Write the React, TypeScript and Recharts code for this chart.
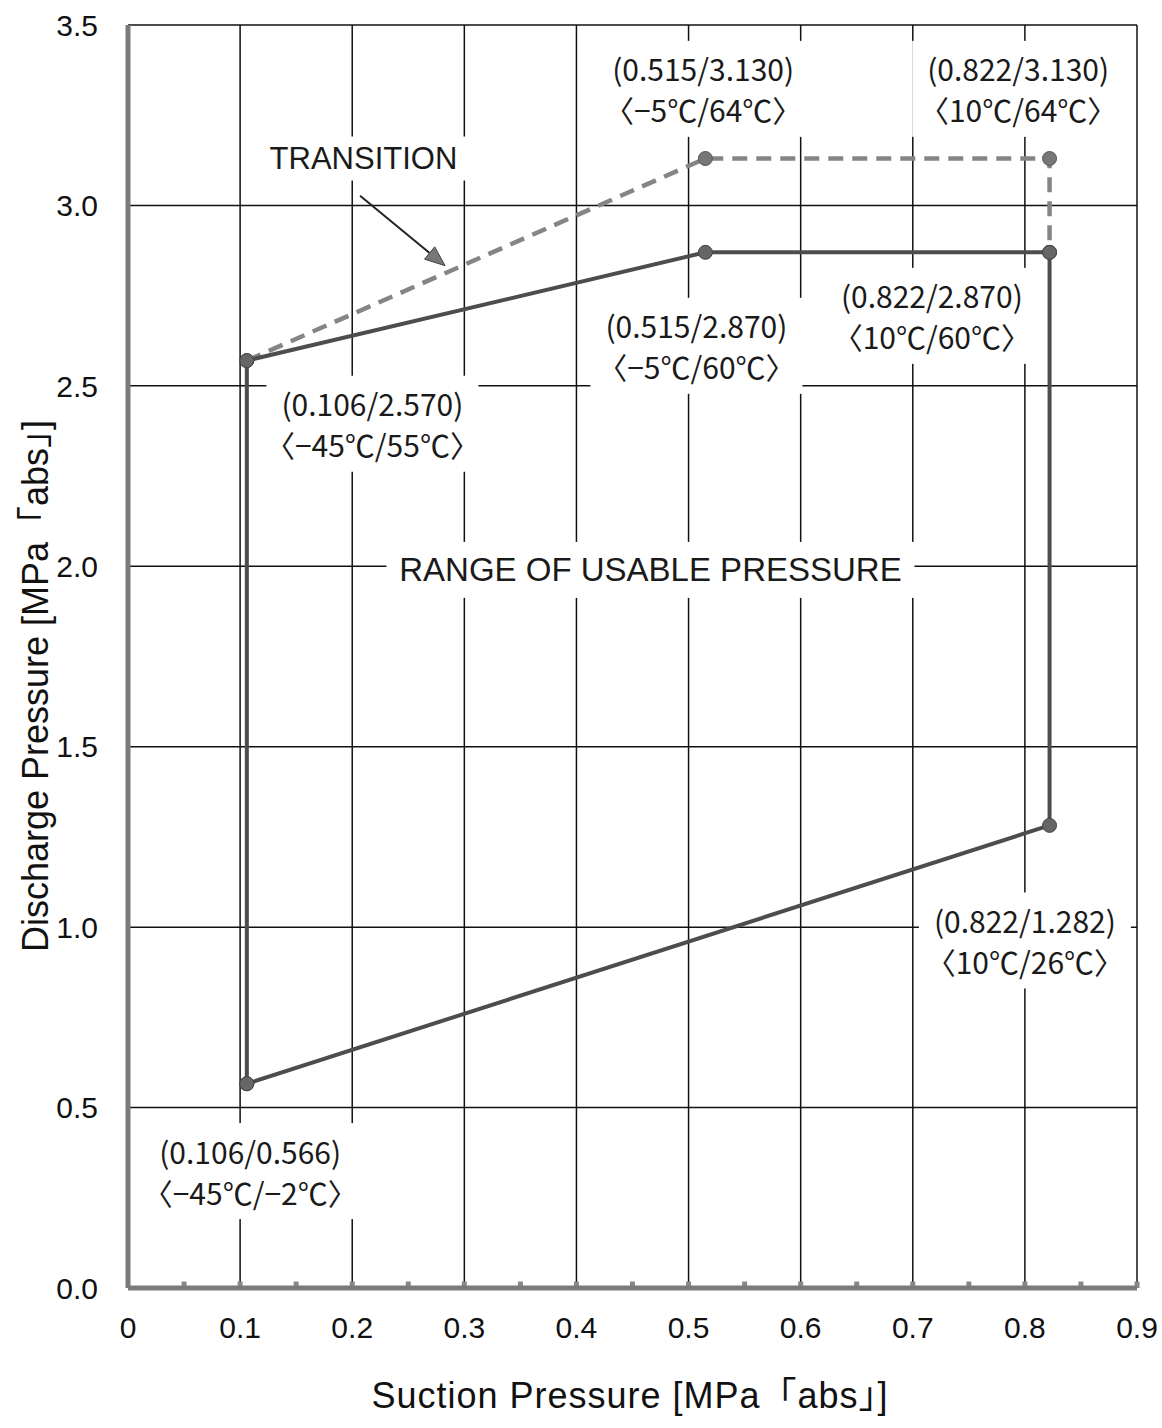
import React from "react";
import { LineChart, Line, XAxis, YAxis, CartesianGrid, ReferenceDot, ReferenceLine } from "recharts";

// operating envelope (suction / discharge, MPa abs)
const rangePoints = [
  { x: 0.106, y: 0.566 },
  { x: 0.106, y: 2.57 },
  { x: 0.515, y: 2.87 },
  { x: 0.822, y: 2.87 },
  { x: 0.822, y: 1.282 },
  { x: 0.106, y: 0.566 },
];
const transitionPoints = [
  { x: 0.106, y: 2.57 },
  { x: 0.515, y: 3.13 },
  { x: 0.822, y: 3.13 },
  { x: 0.822, y: 2.87 },
];

const xTicks = [0, 0.1, 0.2, 0.3, 0.4, 0.5, 0.6, 0.7, 0.8, 0.9];
const yTicks = [0, 0.5, 1.0, 1.5, 2.0, 2.5, 3.0, 3.5];
const minorTicks = [0.05, 0.1, 0.15, 0.2, 0.25, 0.3, 0.35, 0.4, 0.45, 0.5, 0.55, 0.6, 0.65, 0.7, 0.75, 0.8, 0.85, 0.9];

const pointTexts = [
  ["(0.515/3.130)", "〈−5℃/64℃〉"],
  ["(0.822/3.130)", "〈10℃/64℃〉"],
  ["(0.515/2.870)", "〈−5℃/60℃〉"],
  ["(0.822/2.870)", "〈10℃/60℃〉"],
  ["(0.106/2.570)", "〈−45℃/55℃〉"],
  ["(0.822/1.282)", "〈10℃/26℃〉"],
  ["(0.106/0.566)", "〈−45℃/−2℃〉"],
];
// where each label box sits (data coords of its centre)
const pointTextPos = [
  { x: 0.513, y: 3.323 },
  { x: 0.794, y: 3.323 },
  { x: 0.507, y: 2.611 },
  { x: 0.717, y: 2.694 },
  { x: 0.218, y: 2.395 },
  { x: 0.8, y: 0.963 },
  { x: 0.109, y: 0.324 },
];

const CJK = "'Noto Sans CJK JP', 'Liberation Sans', sans-serif";
const SANS = "'Liberation Sans', Arial, 'Noto Sans CJK JP', sans-serif";

const boxShape = (lines: string[], w: number, h: number, font: string, size: number, gap: number) => (props: any) => {
  const { cx, cy } = props;
  const top = cy - ((lines.length - 1) * gap) / 2;
  return (
    <g>
      <rect x={cx - w / 2} y={cy - h / 2} width={w} height={h} fill="#fff" />
      {lines.map((t, i) => (
        <text key={i} x={cx} y={top + i * gap} textAnchor="middle" dominantBaseline="central"
          fontFamily={font} fontSize={size} fill="#1a1a1a">{t}</text>
      ))}
    </g>
  );
};

const arrowShape = (props: any) => {
  const { x1, y1, x2, y2 } = props;
  const a = Math.atan2(y2 - y1, x2 - x1);
  const L = 20, W = 8;
  const bx = x2 - L * Math.cos(a), by = y2 - L * Math.sin(a);
  const p = `${x2},${y2} ${bx + W * Math.sin(a)},${by - W * Math.cos(a)} ${bx - W * Math.sin(a)},${by + W * Math.cos(a)}`;
  return (
    <g>
      <line x1={x1} y1={y1} x2={bx} y2={by} stroke="#222" strokeWidth={2} />
      <polygon points={p} fill="#777" stroke="#444" strokeWidth={1} />
    </g>
  );
};

const App = () => {
  return (
    <div style={{ position: "absolute", left: 0, top: 0, background: "#fff" }}>
      <LineChart width={1162} height={1428} margin={{ top: 25, right: 25, bottom: 80, left: 28 }}>
        <CartesianGrid stroke="#111" strokeWidth={1.5} />
        <XAxis
          type="number"
          dataKey="x"
          domain={[0, 0.9]}
          ticks={xTicks}
          tickFormatter={(v: number) => (v === 0 ? "0" : v.toFixed(1))}
          axisLine={{ stroke: "#7a7a7a", strokeWidth: 5 }}
          tickLine={false}
          tickMargin={23}
          height={60}
          tick={{ fontFamily: SANS, fontSize: 30, fill: "#111" }}
          label={{
            content: () => (
              <text x={630} y={1395} textAnchor="middle" dominantBaseline="central" letterSpacing={1}
                fontFamily={SANS} fontSize={36} fill="#111">Suction Pressure  [MPa「abs」]</text>
            ),
          }}
        />
        <YAxis
          type="number"
          domain={[0, 3.5]}
          ticks={yTicks}
          tickFormatter={(v: number) => v.toFixed(1)}
          axisLine={{ stroke: "#7a7a7a", strokeWidth: 5 }}
          tickLine={false}
          tickMargin={24}
          width={100}
          tick={{ fontFamily: SANS, fontSize: 30, fill: "#111" }}
          label={{
            content: () => (
              <text x={35} y={686} transform="rotate(-90 35 686)" textAnchor="middle" dominantBaseline="central"
                fontFamily={SANS} fontSize={36} fill="#111">Discharge Pressure [MPa「abs」]</text>
            ),
          }}
        />
        {minorTicks.map((t) => (
          <ReferenceLine key={t} segment={[{ x: t, y: 0 }, { x: t, y: 0.018 }]} stroke="#888" strokeWidth={5} />
        ))}
        {pointTexts.map((lines, i) => (
          <ReferenceDot key={i} x={pointTextPos[i].x} y={pointTextPos[i].y} r={0}
            shape={boxShape(lines, 212, 96, CJK, 30, 41)} />
        ))}
        <ReferenceDot x={0.466} y={1.99} r={0} shape={boxShape(["RANGE OF USABLE PRESSURE"], 528, 56, SANS, 33, 0)} />
        <ReferenceDot x={0.21} y={3.13} r={0} shape={boxShape(["TRANSITION"], 205, 44, SANS, 31, 0)} />
        <ReferenceLine segment={[{ x: 0.207, y: 3.027 }, { x: 0.2828, y: 2.833 }]} shape={arrowShape} />
        <Line
          data={transitionPoints}
          dataKey="y"
          type="linear"
          stroke="#858585"
          strokeWidth={4.5}
          strokeDasharray="15 9"
          dot={{ r: 7, fill: "#777", stroke: "#555", strokeWidth: 1, strokeDasharray: "0" }}
          isAnimationActive={false}
        />
        <Line
          data={rangePoints}
          dataKey="y"
          type="linear"
          stroke="#4d4d4d"
          strokeWidth={4}
          dot={{ r: 7, fill: "#666", stroke: "#444", strokeWidth: 1 }}
          isAnimationActive={false}
        />
      </LineChart>
    </div>
  );
};

export default App;
